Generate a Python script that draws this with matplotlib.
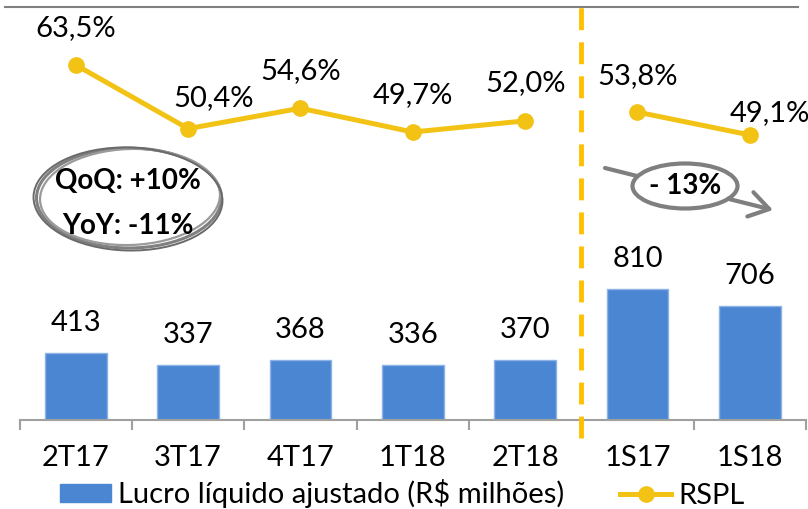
import matplotlib
matplotlib.use("Agg")
import matplotlib.pyplot as plt
from matplotlib.patches import Ellipse, Patch
from matplotlib.lines import Line2D
import numpy as np

plt.rcParams['font.family'] = ['Lato', 'DejaVu Sans']

categories = ["2T17", "3T17", "4T17", "1T18", "2T18", "1S17", "1S18"]
lucro = [413, 337, 368, 336, 370, 810, 706]
rspl = [63.5, 50.4, 54.6, 49.7, 52.0, 53.8, 49.1]
rspl_labels = ["63,5%", "50,4%", "54,6%", "49,7%", "52,0%", "53,8%", "49,1%"]
# label offsets (pixels) relative to each point: (dx, dy) up is positive
rspl_offsets = [(0, 37), (25, 31), (0, 37), (0, 37), (0, 38), (0, 36), (20, 22)]

BLUE = '#4A86D2'
YELLOW = '#F2C314'
DASH = '#FFC000'
GREY = '#7F7F7F'
FS = 21

W, H = 808, 509
fig = plt.figure(figsize=(W / 100, H / 100), dpi=100)
px = 72 / 100  # points per pixel

ax_left, ax_right = 19.6, 806
ax_bottom, ax_top = 419.5, 0
ax = fig.add_axes([ax_left / W, (H - ax_bottom) / H, (ax_right - ax_left) / W, (ax_bottom - ax_top) / H])

x = np.arange(len(categories))
ax.bar(x, lucro, width=0.55, color=BLUE, edgecolor='#8DB3E6', linewidth=1, zorder=2)
ax.set_xlim(-0.5, len(categories) - 0.5)
ax.set_ylim(0, 419.5 * 6.2)
for xi, v in zip(x, lucro):
    ax.annotate(str(v), (xi, v), xytext=(0, 30 * px), textcoords='offset points',
                ha='center', va='center', fontsize=FS, color='black')

for s in ['left', 'right', 'top']:
    ax.spines[s].set_visible(False)
ax.spines['bottom'].set_color('#A0A0A0')
ax.spines['bottom'].set_linewidth(1.5)
ax.set_yticks([])
ax.set_xticks(x)
ax.set_xticklabels(categories, fontsize=FS)
ax.set_xticks(np.arange(-0.5, len(categories)), minor=True)
ax.tick_params(axis='x', which='major', length=0, pad=25 * px)
ax.tick_params(axis='x', which='minor', length=10 * px, width=1.5, color='#A0A0A0', direction='out')

ax.axvline(4.5, ymin=-0.044, ymax=0.988, color=DASH, lw=3.5, dashes=(4.5, 2.5), clip_on=False, zorder=3)

ax2 = ax.twinx()
ax2.set_ylim(76.87 - 419.5 / 4.86, 76.87)
for s in ['left', 'right', 'top', 'bottom']:
    ax2.spines[s].set_visible(False)
ax2.set_yticks([])
ax2.plot(x[:5], rspl[:5], color=YELLOW, lw=3.6, marker='o', markersize=11, zorder=4)
ax2.plot(x[5:], rspl[5:], color=YELLOW, lw=3.6, marker='o', markersize=11, zorder=4)
for xi, v, lab, (dx, dy) in zip(x, rspl, rspl_labels, rspl_offsets):
    ax2.annotate(lab, (xi, v), xytext=(dx * px, dy * px), textcoords='offset points',
                 ha='center', va='center', fontsize=FS, color='black')

# legend
handles = [Patch(facecolor=BLUE, edgecolor=BLUE),
           Line2D([0], [0], color=YELLOW, lw=3.6, marker='o', markersize=11)]
fig.legend(handles, ["Lucro líquido ajustado (R$ milhões)", "RSPL"], loc='center',
           bbox_to_anchor=(0.498, (H - 494) / H), ncol=2, frameon=False, fontsize=FS,
           handlelength=1.75, handleheight=0.6, columnspacing=1.9, handletextpad=0.25,
           borderaxespad=0, borderpad=0)

# overlay for annotations
ov = fig.add_axes([0, 0, 1, 1])
ov.set_xlim(0, W)
ov.set_ylim(H, 0)
ov.axis('off')
ov.patch.set_alpha(0)

ov.plot([5, 798], [7, 7], color='#808080', lw=1.5)

for (cx, cy, w, h, a, lw, c) in [(129, 198, 185, 100, 0, 2.2, '#808080'),
                                  (130, 197, 180, 96, -2, 1.6, '#9a9a9a'),
                                  (128, 199, 189, 103, 1.5, 1.4, '#6a6a6a')]:
    ov.add_patch(Ellipse((cx, cy), w, h, angle=a, facecolor='none', edgecolor=c, lw=lw))
ov.text(128, 181, "QoQ: +10%", ha='center', va='center', fontsize=20, fontweight='bold')
ov.text(128, 226, "YoY: -11%", ha='center', va='center', fontsize=20, fontweight='bold')

ov.annotate('', xy=(773, 210), xytext=(605, 168),
            arrowprops=dict(arrowstyle='->,head_length=0.7,head_width=0.45', lw=3, color=GREY,
                            mutation_scale=20, shrinkA=0, shrinkB=0))
ov.add_patch(Ellipse((685, 186), 105, 45, facecolor='white', edgecolor=GREY, lw=3, zorder=5))
ov.text(685, 186, "- 13%", ha='center', va='center', fontsize=20, fontweight='bold', zorder=6)

fig.savefig("out.png", dpi=100)
